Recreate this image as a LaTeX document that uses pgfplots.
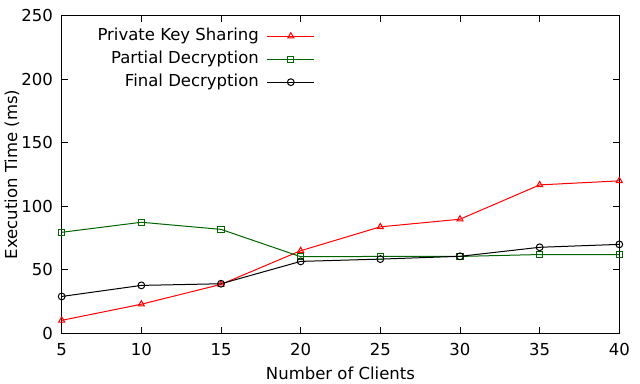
\documentclass[border=0pt]{standalone}
\usepackage{fontspec}
\setmainfont{DejaVu Sans}
\usepackage{pgfplots}
\pgfplotsset{compat=1.18}
\definecolor{gpgreen}{HTML}{006400}
\newcommand{\gpfont}{\fontsize{16.5bp}{19bp}\selectfont}
\begin{document}
\begin{tikzpicture}
\useasboundingbox (-61.7bp,-50.7bp) rectangle (578.3bp,333.3bp);
\begin{axis}[
  at={(0,0)}, anchor=south west,
  scale only axis, width=557.6bp, height=317.6bp,
  xmin=5, xmax=40, ymin=0, ymax=250,
  xtick={5,10,...,40}, ytick={0,50,...,250},
  tick align=inside, major tick length=6bp,
  axis line style={line width=1bp},
  every tick/.style={black, line width=0.8bp},
  /pgf/number format/assume math mode=true,
  tick label style={font=\gpfont},
  yticklabel style={anchor=east, inner sep=0pt, xshift=-8.7bp},
  xticklabel style={anchor=north, inner sep=0pt, yshift=-10bp},
  xlabel={Number of Clients}, ylabel={Execution Time (ms)},
  label style={font=\gpfont},
  xlabel style={at={(axis description cs:0.5,-0.125)}, anchor=center},
  ylabel style={at={(axis description cs:-0.0891,0.5)}, anchor=center},
  clip=false,
  legend plot pos=right,
  legend cell align=right,
  legend style={draw=none, fill=none, inner sep=0pt, font=\gpfont,
    at={(0.4543,0.9676)}, anchor=north east, row sep=3bp, column sep=6bp,
    nodes={inner sep=2bp, text height=12bp, text depth=4bp}},
  legend image code/.code={\draw[mark repeat=2, mark phase=2] plot coordinates {(0bp,0bp) (23.5bp,0bp) (47bp,0bp)};},
]
\addplot[red, line width=1bp, mark=triangle, mark size=3.5bp, mark options={solid}] coordinates {
  (5,10.2) (10,22.9) (15,38.5) (20,65) (25,83.8) (30,89.8) (35,116.8) (40,120)};
\addlegendentry{Private Key Sharing}
\addplot[gpgreen, line width=1bp, mark=square, mark size=3.1bp] coordinates {
  (5,79.5) (10,87.4) (15,81.8) (20,60.3) (25,60.5) (30,60.5) (35,62) (40,62)};
\addlegendentry{Partial Decryption}
\addplot[black, line width=1bp, mark=o, mark size=3.4bp] coordinates {
  (5,29) (10,37.7) (15,39) (20,56.6) (25,58.4) (30,60.6) (35,67.7) (40,70)};
\addlegendentry{Final Decryption}
\end{axis}
\end{tikzpicture}
\end{document}
